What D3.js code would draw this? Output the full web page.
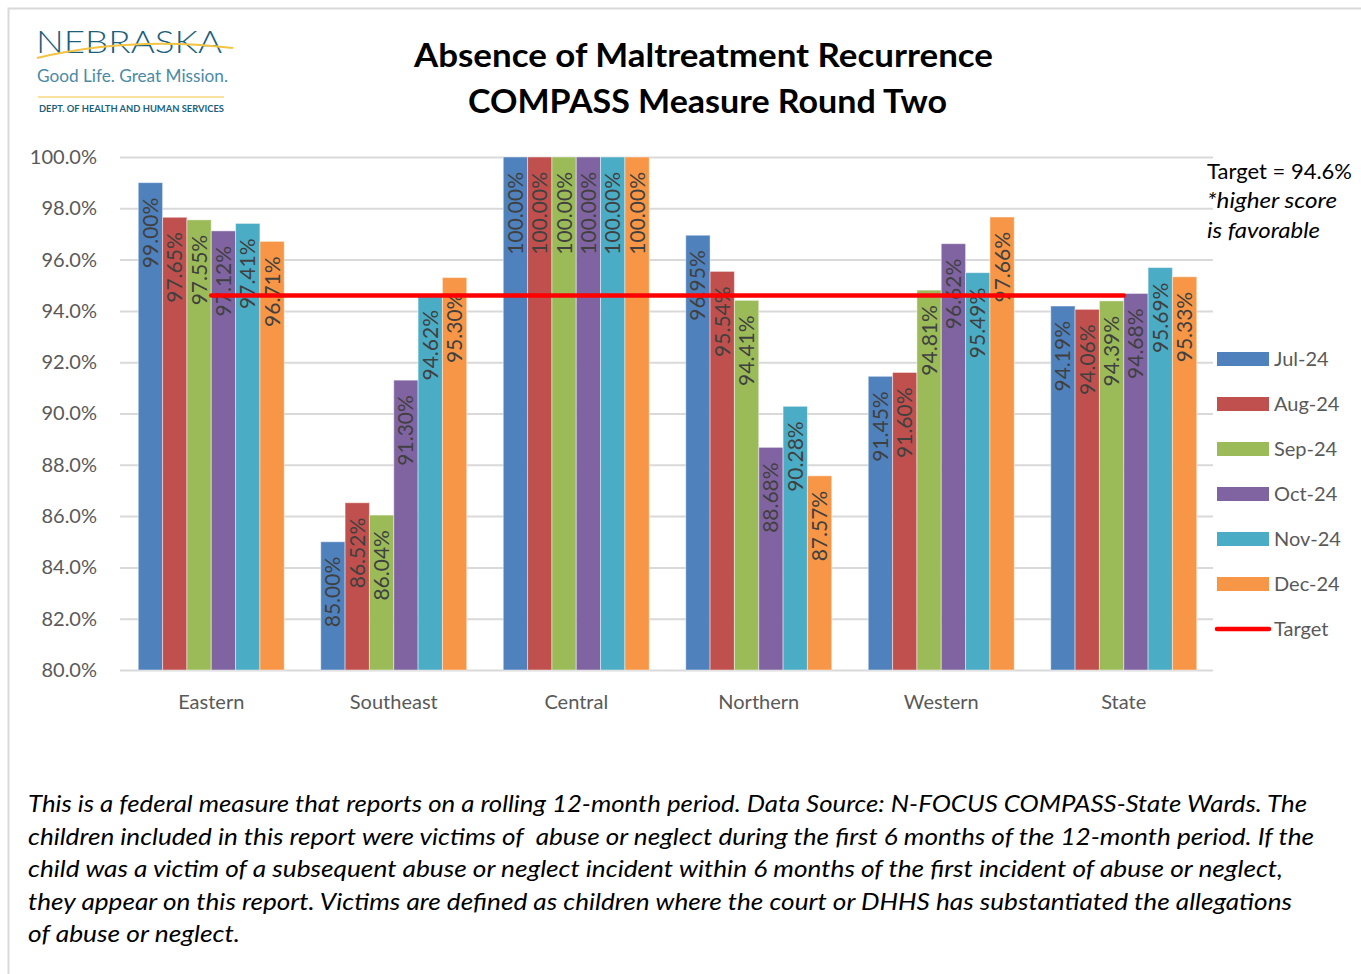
<!DOCTYPE html>
<html>
<head>
<meta charset="utf-8">
<script src="https://cdn.jsdelivr.net/npm/d3@7"></script>
<style>
  body { margin: 0; background: #fff; }
  svg { display: block; font-family: Lato, "Open Sans", sans-serif; }
  .note-line { white-space: pre; }
</style>
</head>
<body>
<div id="draw"></div>
<script>
// data
const regions = ['Eastern', 'Southeast', 'Central', 'Northern', 'Western', 'State'];
const months = ['Jul-24', 'Aug-24', 'Sep-24', 'Oct-24', 'Nov-24', 'Dec-24'];
const jul24 = [99.00, 85.00, 100.00, 96.95, 91.45, 94.19];
const aug24 = [97.65, 86.52, 100.00, 95.54, 91.60, 94.06];
const sep24 = [97.55, 86.04, 100.00, 94.41, 94.81, 94.39];
const oct24 = [97.12, 91.30, 100.00, 88.68, 96.62, 94.68];
const nov24 = [97.41, 94.62, 100.00, 90.28, 95.49, 95.69];
const dec24 = [96.71, 95.30, 100.00, 87.57, 97.66, 95.33];
const target = 94.6;
const yTicks = [80, 82, 84, 86, 88, 90, 92, 94, 96, 98, 100];
const colors = ['#4f81bd', '#c0504d', '#9bbb59', '#8064a2', '#4bacc6', '#f79646'];

const titleLines = ['Absence of Maltreatment Recurrence', 'COMPASS Measure Round Two'];
const noteLines = [
    'This is a federal measure that reports on a rolling 12-month period. Data Source: N-FOCUS COMPASS-State Wards. The',
    'children included in this report were victims of  abuse or neglect during the first 6 months of the 12-month period. If the',
    'child was a victim of a subsequent abuse or neglect incident within 6 months of the first incident of abuse or neglect,',
    'they appear on this report. Victims are defined as children where the court or DHHS has substantiated the allegations',
    'of abuse or neglect.'
];
const noteWidths = [1279, 1286, 1255, 1264, 212];

const series = [jul24, aug24, sep24, oct24, nov24, dec24];

let width = 1361,
    height = 974,
    plot = { left: 120, right: 1215, top: 157, bottom: 670 };

let svg = d3.select('#draw')
    .append('svg')
    .attr('width', width)
    .attr('height', height);

// outer frame
svg.append('rect')
    .attr('x', 8.5).attr('y', 8.5)
    .attr('width', 1400).attr('height', 1000)
    .attr('fill', 'none').attr('stroke', '#d9d9d9').attr('stroke-width', 2);

// logo
let logo = svg.append('g');
logo.append('text').attr('x', 36).attr('y', 53)
    .attr('font-size', 32).attr('font-weight', 300).attr('fill', '#1b5f7c')
    .attr('textLength', 186).attr('lengthAdjust', 'spacingAndGlyphs')
    .text('NEBRASKA');
logo.append('path')
    .attr('d', 'M37,58 Q130,36 233,48')
    .attr('fill', 'none').attr('stroke', '#f5c342').attr('stroke-width', 2.2);
logo.append('text').attr('x', 37).attr('y', 82)
    .attr('font-size', 17).attr('fill', '#4a8aa5')
    .attr('textLength', 191).attr('lengthAdjust', 'spacingAndGlyphs')
    .text('Good Life. Great Mission.');
logo.append('line').attr('x1', 38).attr('x2', 224).attr('y1', 97).attr('y2', 97)
    .attr('stroke', '#f9d77e').attr('stroke-width', 1.5);
logo.append('text').attr('x', 39).attr('y', 111.5)
    .attr('font-size', 9.5).attr('font-weight', 700).attr('fill', '#1b5f7c')
    .attr('textLength', 185).attr('lengthAdjust', 'spacingAndGlyphs')
    .text('DEPT. OF HEALTH AND HUMAN SERVICES');

// title
svg.selectAll('.title')
    .data(titleLines)
    .enter()
    .append('text')
    .attr('class', 'title')
    .attr('x', (d, i) => i == 0 ? 703.5 : 707.5)
    .attr('y', (d, i) => 67 + i * 46)
    .attr('text-anchor', 'middle')
    .attr('font-size', 33).attr('font-weight', 700).attr('fill', '#000')
    .attr('textLength', (d, i) => i == 0 ? 579 : 479)
    .attr('lengthAdjust', 'spacingAndGlyphs')
    .text(d => d);

let xScale = d3.scaleBand().domain(regions).range([plot.left, plot.right]).paddingInner(0.2).paddingOuter(0.1),
    xInner = d3.scaleBand().domain(months).range([0, xScale.bandwidth()]),
    yScale = d3.scaleLinear().domain([80, 100]).range([plot.bottom, plot.top]);

// gridlines + y labels
let yAxis = svg.append('g')
    .attr('transform', 'translate(' + plot.left + ',0)')
    .call(d3.axisLeft(yScale).tickValues(yTicks).tickSize(-(1213 - plot.left)).tickPadding(23)
        .tickFormat(d => d3.format('.1f')(d) + '%'));
yAxis.select('.domain').remove();
yAxis.selectAll('line').attr('stroke', '#d9d9d9').attr('stroke-width', 2);
yAxis.selectAll('text').attr('font-size', 20).attr('fill', '#595959')
    .attr('font-family', 'Lato, sans-serif');

// x labels
let xAxis = svg.append('g')
    .attr('transform', 'translate(0,' + plot.bottom + ')')
    .call(d3.axisBottom(xScale).tickSize(0).tickPadding(25));
xAxis.select('.domain').remove();
xAxis.selectAll('text').attr('font-size', 20).attr('fill', '#595959')
    .attr('font-family', 'Lato, sans-serif');

// bars
let groups = svg.append('g')
    .selectAll('g')
    .data(regions)
    .enter()
    .append('g')
    .attr('transform', d => 'translate(' + xScale(d) + ',0)');

let cells = groups.selectAll('g')
    .data((r, ri) => months.map((m, mi) => ({ month: m, mi: mi, value: series[mi][ri] })))
    .enter()
    .append('g');

cells.append('rect')
    .attr('x', d => xInner(d.month))
    .attr('y', d => yScale(d.value))
    .attr('width', xInner.bandwidth())
    .attr('height', d => yScale(80) - yScale(d.value))
    .attr('fill', d => colors[d.mi])
    .attr('stroke', 'rgba(255,255,255,0.45)')
    .attr('stroke-width', 1);

cells.append('text')
    .attr('transform', d => 'translate(' + (xInner(d.month) + xInner.bandwidth() / 2 + 7.5) + ',' + (yScale(d.value) + 15) + ') rotate(-90)')
    .attr('text-anchor', 'end')
    .attr('font-size', 21)
    .attr('fill', '#404040')
    .text(d => d3.format('.2f')(d.value) + '%');

// target line
svg.append('line')
    .attr('x1', xScale(regions[0]) + xScale.bandwidth() / 2)
    .attr('x2', xScale(regions[regions.length - 1]) + xScale.bandwidth() / 2)
    .attr('y1', yScale(target)).attr('y2', yScale(target))
    .attr('stroke', '#ff0000').attr('stroke-width', 4.5).attr('stroke-linecap', 'round');

// target note
let note = svg.append('g').attr('font-size', 22).attr('fill', '#000');
note.append('text').attr('x', 1207).attr('y', 179)
    .attr('textLength', 145).attr('lengthAdjust', 'spacingAndGlyphs')
    .text('Target = ' + target + '%');
note.append('text').attr('x', 1207).attr('y', 208).attr('font-style', 'italic')
    .attr('textLength', 130).attr('lengthAdjust', 'spacingAndGlyphs')
    .text('*higher score');
note.append('text').attr('x', 1207).attr('y', 238).attr('font-style', 'italic')
    .attr('textLength', 113).attr('lengthAdjust', 'spacingAndGlyphs')
    .text('is favorable');

// legend
let legend = svg.append('g')
    .selectAll('g')
    .data(months.concat(['Target']))
    .enter()
    .append('g')
    .attr('transform', (d, i) => 'translate(1217,' + (359 + i * 45) + ')');

legend.filter(d => d != 'Target').append('rect')
    .attr('x', 0).attr('y', -7).attr('width', 52).attr('height', 14)
    .attr('fill', (d, i) => colors[i]);
legend.filter(d => d == 'Target').append('line')
    .attr('x1', 0).attr('x2', 52).attr('y1', 0).attr('y2', 0)
    .attr('stroke', '#ff0000').attr('stroke-width', 4.5).attr('stroke-linecap', 'round');
legend.append('text')
    .attr('x', 57).attr('y', 7)
    .attr('font-size', 20).attr('fill', '#595959')
    .text(d => d);

// footnote
svg.append('g')
    .selectAll('text')
    .data(noteLines)
    .enter()
    .append('text')
    .attr('class', 'note-line')
    .attr('x', 28)
    .attr('y', (d, i) => 812 + i * 32.5)
    .attr('font-size', 23).attr('font-style', 'italic').attr('fill', '#000')
    .attr('textLength', (d, i) => noteWidths[i])
    .attr('lengthAdjust', 'spacingAndGlyphs')
    .text(d => d);
</script>
</body>
</html>
